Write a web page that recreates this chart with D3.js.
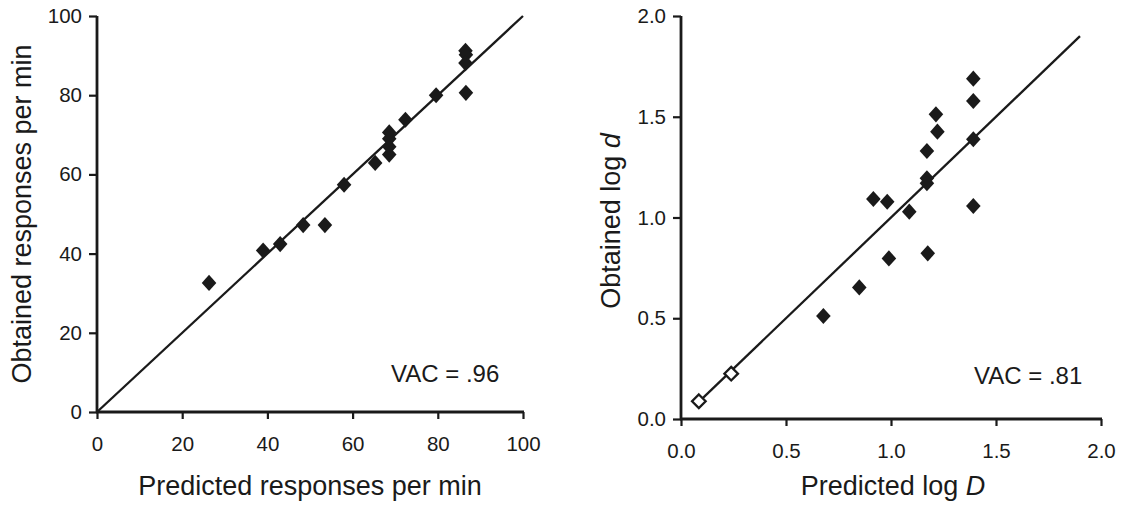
<!DOCTYPE html>
<html><head><meta charset="utf-8">
<script src="https://cdn.jsdelivr.net/npm/d3@7"></script>
<style>
body{margin:0;background:#fff;}
text{font-family:"Liberation Sans",Arial,Helvetica,sans-serif;fill:#1a1a1a;}
</style></head>
<body><svg id="c" width="1124" height="506"></svg>
<script>
// Left panel: predicted vs obtained responses per min
const leftPredicted = [26.3, 39, 43, 48.4, 53.5, 58, 65.3, 68.6, 68.6, 68.6, 68.6, 72.4, 79.6, 86.5, 86.6, 86.5, 86.6];
const leftObtained  = [32.6, 40.8, 42.4, 47.2, 47.2, 57.4, 62.9, 65, 67, 69, 70.6, 73.8, 80, 91.2, 90.2, 88.1, 80.6];
const leftTicks = [0, 20, 40, 60, 80, 100];
const leftFit = [[0, 0], [100, 100]];

// Right panel: predicted log D vs obtained log d
const rightPredicted = [0.678, 0.849, 0.916, 0.982, 0.990, 1.087, 1.171, 1.171, 1.171, 1.175, 1.214, 1.221, 1.392, 1.392, 1.392, 1.392];
const rightObtained  = [0.511, 0.653, 1.092, 1.078, 0.797, 1.029, 1.330, 1.195, 1.170, 0.822, 1.512, 1.426, 1.689, 1.578, 1.388, 1.057];
const rightOpenPredicted = [0.085, 0.239];
const rightOpenObtained  = [0.088, 0.225];
const rightTicks = [0, 0.5, 1.0, 1.5, 2.0];
const rightFit = [[0.07, 0.07], [1.9, 1.9]];

const svg = d3.select("#c");
const ink = "#1a1a1a";

function panel(o){
  const x = d3.scaleLinear().domain(o.xd).range(o.xr);
  const y = d3.scaleLinear().domain(o.yd).range(o.yr);
  const g = svg.append("g");
  const xa = g.append("g").attr("transform",`translate(0,${o.yr[0]})`)
    .call(d3.axisBottom(x).tickValues(o.ticks).tickFormat(o.fmt).tickSize(7).tickPadding(17));
  const ya = g.append("g").attr("transform",`translate(${o.xr[0]},0)`)
    .call(d3.axisLeft(y).tickValues(o.ticks).tickFormat(o.fmt).tickSize(8).tickPadding(7));
  [xa,ya].forEach(a=>{
    a.select(".domain").attr("stroke",ink).attr("stroke-width",2.8);
    a.selectAll(".tick line").attr("stroke",ink).attr("stroke-width",2.2);
    a.selectAll("text").attr("font-size",20.5).attr("fill",ink).attr("font-family","Liberation Sans, Arial, sans-serif");
  });
  xa.select(".domain").attr("d",`M${o.xr[0]-1},0H${o.xr[1]+1}`);
  ya.select(".domain").attr("d",`M0,${o.yr[0]+1}V${o.yr[1]}`);
  g.append("line").attr("x1",x(o.fit[0][0])).attr("y1",y(o.fit[0][1]))
    .attr("x2",x(o.fit[1][0])).attr("y2",y(o.fit[1][1]))
    .attr("stroke",ink).attr("stroke-width",2.3);
  g.selectAll("path.pt").data(o.px.map((v,i)=>[v,o.py[i]])).enter().append("path")
    .attr("class","pt").attr("d",d3.symbol().type(d3.symbolDiamond2).size(150))
    .attr("transform",d=>`translate(${x(d[0])},${y(d[1])}) scale(0.95,1.05)`).attr("fill",ink);
  if(o.ox){
    g.selectAll("path.op").data(o.ox.map((v,i)=>[v,o.oy[i]])).enter().append("path")
      .attr("class","op").attr("d",d3.symbol().type(d3.symbolDiamond2).size(118))
      .attr("transform",d=>`translate(${x(d[0])},${y(d[1])})`)
      .attr("fill","#fff").attr("stroke",ink).attr("stroke-width",2.3);
  }
  return {x,y,g};
}

panel({xd:[0,100],xr:[97,523],yd:[0,100],yr:[412,16],ticks:leftTicks,fmt:d3.format("d"),
  px:leftPredicted,py:leftObtained,fit:leftFit});
panel({xd:[0,2],xr:[681,1101],yd:[0,2],yr:[419,16],ticks:rightTicks,fmt:d3.format(".1f"),
  px:rightPredicted,py:rightObtained,ox:rightOpenPredicted,oy:rightOpenObtained,fit:rightFit});

// titles
svg.append("text").attr("x",310).attr("y",495).attr("text-anchor","middle").attr("font-size",27)
  .text("Predicted responses per min");
svg.append("text").attr("transform","translate(31,214) rotate(-90)").attr("text-anchor","middle").attr("font-size",27)
  .text("Obtained responses per min");
svg.append("text").attr("x",391).attr("y",382).attr("font-size",24).text("VAC = .96");

const rx = svg.append("text").attr("x",893).attr("y",495).attr("text-anchor","middle").attr("font-size",27);
rx.append("tspan").text("Predicted log ");
rx.append("tspan").attr("font-style","italic").text("D");
const ry = svg.append("text").attr("transform","translate(620,221) rotate(-90)").attr("text-anchor","middle").attr("font-size",27);
ry.append("tspan").text("Obtained log ");
ry.append("tspan").attr("font-style","italic").text("d");
svg.append("text").attr("x",974).attr("y",384).attr("font-size",24).text("VAC = .81");
</script></body></html>
